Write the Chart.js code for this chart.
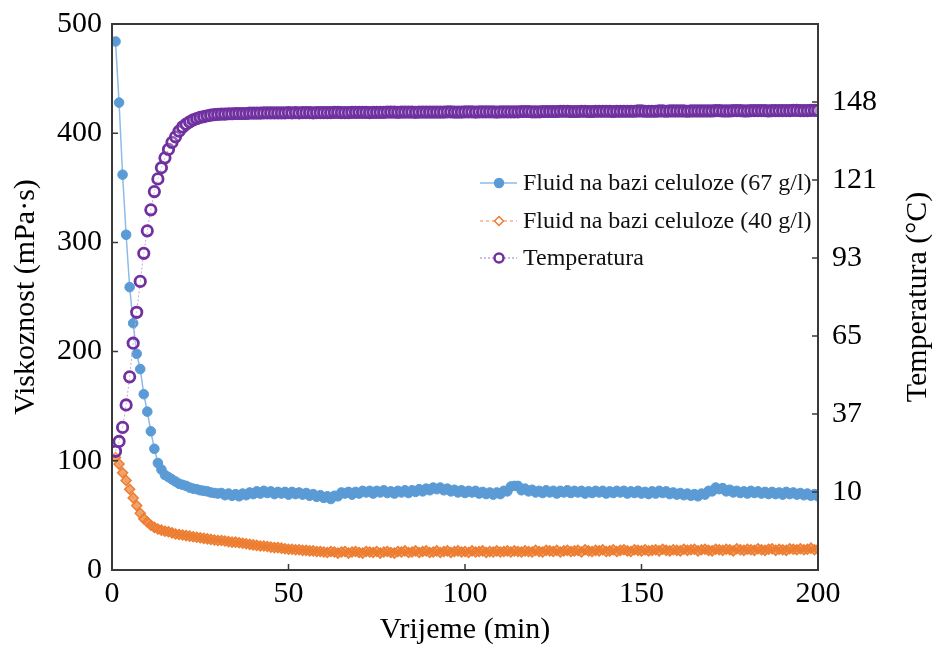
<!DOCTYPE html>
<html>
<head>
<meta charset="utf-8">
<script src="https://cdn.jsdelivr.net/npm/chart.js"></script>
<style>
  body { margin: 0; background: #fff; }
  #wrap { width: 934px; height: 646px; position: relative; }
</style>
</head>
<body>
<div id="wrap"><canvas id="viscChart"></canvas></div>
<script>
// vrijeme (min)
var times = [
  1,2,3,4,5,6,7,8,9,10, 11,12,13,14,15,16,17,18,19,20, 21,22,23,24,25,26,27,28,29,30,
  31,32,33,34,35,36,37,38,39,40, 41,42,43,44,45,46,47,48,49,50, 51,52,53,54,55,56,57,58,59,60,
  61,62,63,64,65,66,67,68,69,70, 71,72,73,74,75,76,77,78,79,80, 81,82,83,84,85,86,87,88,89,90,
  91,92,93,94,95,96,97,98,99,100, 101,102,103,104,105,106,107,108,109,110, 111,112,113,114,115,116,117,118,119,120,
  121,122,123,124,125,126,127,128,129,130, 131,132,133,134,135,136,137,138,139,140, 141,142,143,144,145,146,147,148,149,150,
  151,152,153,154,155,156,157,158,159,160, 161,162,163,164,165,166,167,168,169,170, 171,172,173,174,175,176,177,178,179,180,
  181,182,183,184,185,186,187,188,189,190, 191,192,193,194,195,196,197,198,199,200];

// viskoznost (mPa·s), 67 g/l
var visc67 = [
  484,428,362,307,259,226,198,184,161,145, 127,111,98,92,87,85,83,81,79,78, 77,75.5,74.5,74,73,72.5,72,71,70.5,70,
  70.5,68.5,70,68,69.5,67.5,70,68.5,71,69.5, 72,70,72.5,70.5,72,69.5,71.5,70,71.5,69, 71.5,69.5,71,69,70.5,68,69.5,67,68.5,66,
  67.5,65,68,67.5,71,70,71.5,69,71.5,70, 72.5,71,72.5,70,72.5,71,73,70.5,72,70, 72.5,71,73,70.5,73,71.5,74,72,74.5,73,
  75.5,74,75.5,73,74.5,72,73.5,71,73,70.5, 72.5,71,72.5,70,71.5,69.5,71,69,71,69.5, 72.5,72,76.5,77,77,73,74.5,72,73.5,71,
  72.5,70.5,73,71,72.5,70,72.5,71,73,70.5, 72.5,71,72.5,70,72,70.5,72.5,71,72.5,70, 72,70.5,72.5,71,72.5,70,72,70.5,72.5,70,
  71.5,69.5,72,70,72.5,70.5,72,69.5,71,69, 70.5,68.5,70,68,69.5,67.5,70,69,72.5,72, 75.5,74,75,72,73.5,71,72.5,70.5,72,70,
  72.5,70.5,72,70,71.5,69.5,71.5,69.5,71,69, 71.5,69.5,71,69,70.5,68.5,70,68,69.5,67.5];

// viskoznost (mPa·s), 40 g/l
var visc40 = [
  103,97,89,82,74,66,59,52,47,44, 41,39,37.5,36.5,35.5,35,34,33,32.5,32, 31.5,31,30.5,30,29.5,29,28.5,28,27.5,27,
  27,26.5,26,25.5,25.5,25,24.5,24,23.5,23, 22.5,22,22,21.5,21,20.5,20.5,20,19.5,19, 19,18.5,18.5,18,18,17.5,17.5,17,17,16.5,
  16,17,16.5,15.5,16.5,17,15.5,16.5,17,16, 15.5,17,16.5,16,17,15.5,16.5,17,16,15.5, 17,16.5,17.5,16,16.5,17.5,16,17,17.5,16,
  16.5,17.5,16,17,17.5,16,17,17.5,16.5,17, 16,17.5,16.5,17,17.5,16,17,16.5,17.5,16.5, 17,17.5,16.5,17.5,17,16.5,17.5,17,16.5,18,
  17,16.5,18,17.5,17,18,16.5,17.5,18,17, 17.5,18,16.5,18.5,17.5,17,18,17.5,18.5,17, 17.5,18.5,17,18,18.5,17.5,17,18.5,18,17.5,
  18.5,17.5,18,18.5,17.5,19,18,17.5,18.5,18, 17.5,19,18,18.5,19,17.5,18.5,19,18,17.5, 19,18.5,18,19,18.5,17.5,19.5,18.5,18,19,
  18.5,18,19.5,18.5,18,19,19.5,18,19,18.5, 18,19.5,19,18.5,19.5,18.5,19,20,18.5,19];

// temperatura (°C)
var temperature = [
  24.5,28,33,41,51,63,74,85,95,103, 110.5,117,121.5,125.5,129,132,134.5,136.5,138.5,140, 141,141.8,142.5,143,143.4,143.7,144,144.2,144.4,144.5,
  144.6,144.6,144.7,144.7,144.8,144.8,144.8,144.8,144.9,144.9, 144.9,144.9,145,145,145,145,145,145,145,145.1, 145,145.1,145,145.1,145.1,145.1,145,145.1,145.1,145.1,
  145.1,145.1,145.2,145.2,145.1,145.1,145.1,145.2,145.2,145.2, 145.2,145.2,145.1,145.2,145.2,145.2,145.2,145.3,145.3,145.3, 145.2,145.3,145.3,145.3,145.3,145.2,145.3,145.3,145.3,145.3,
  145.3,145.3,145.3,145.3,145.4,145.4,145.3,145.3,145.3,145.4, 145.4,145.4,145.3,145.4,145.4,145.4,145.4,145.4,145.3,145.4, 145.4,145.4,145.4,145.4,145.4,145.5,145.5,145.5,145.4,145.4,
  145.4,145.5,145.5,145.5,145.5,145.5,145.6,145.6,145.6,145.5, 145.5,145.5,145.6,145.6,145.5,145.5,145.6,145.6,145.6,145.6, 145.6,145.5,145.6,145.6,145.6,145.6,145.6,145.6,145.7,145.7,
  145.6,145.6,145.6,145.6,145.7,145.7,145.6,145.7,145.7,145.7, 145.7,145.7,145.6,145.7,145.7,145.7,145.7,145.7,145.7,145.7, 145.8,145.8,145.7,145.7,145.7,145.8,145.8,145.8,145.7,145.7,
  145.8,145.8,145.8,145.8,145.8,145.7,145.8,145.8,145.8,145.8, 145.8,145.8,145.9,145.9,145.8,145.8,145.8,145.9,145.9,145.9];

var seriesLabels = ['Fluid na bazi celuloze (67 g/l)', 'Fluid na bazi celuloze (40 g/l)', 'Temperatura'];

// desna os: 50..300 °F preracunato u °C
var tempTickValues = [10, 37.78, 65.56, 93.33, 121.11, 148.89];
var tempTickLabels = ['10', '37', '65', '93', '121', '148'];
var tempMin = -17.78, tempMax = 176.67;

function pts(ys) {
  return times.map(function(t, i) { return {x: t, y: ys[i]}; });
}

var serif = "'Liberation Serif', 'Times New Roman', serif";

var boxPlugin = {
  id: 'boxPlugin',
  afterDraw: function(chart) {
    var ctx = chart.ctx, a = chart.chartArea;
    ctx.save();
    ctx.strokeStyle = '#3a3a3a';
    ctx.lineWidth = 2;
    ctx.strokeRect(a.left, a.top, a.right - a.left, a.bottom - a.top);

    // unutarnje crtice
    ctx.lineWidth = 1.5;
    ctx.beginPath();
    chart.scales.x.ticks.forEach(function(t) {
      var px = chart.scales.x.getPixelForValue(t.value);
      ctx.moveTo(px, a.bottom); ctx.lineTo(px, a.bottom - 6);
    });
    chart.scales.y.ticks.forEach(function(t) {
      var py = chart.scales.y.getPixelForValue(t.value);
      ctx.moveTo(a.left, py); ctx.lineTo(a.left + 6, py);
    });
    chart.scales.y2.ticks.forEach(function(t) {
      var py = chart.scales.y2.getPixelForValue(t.value);
      ctx.moveTo(a.right, py); ctx.lineTo(a.right - 6, py);
    });
    ctx.stroke();

    // naslov desne osi
    ctx.fillStyle = '#000';
    ctx.font = '30px ' + serif;
    ctx.textAlign = 'center';
    ctx.textBaseline = 'middle';
    ctx.translate(918, (a.top + a.bottom) / 2);
    ctx.rotate(-Math.PI / 2);
    ctx.fillText('Temperatura (°C)', 0, 0);
    ctx.restore();

    // legenda
    ctx.save();
    ctx.font = '24px ' + serif;
    ctx.textAlign = 'left';
    ctx.textBaseline = 'middle';
    var rows = [183, 221, 258];
    chart.data.datasets.forEach(function(ds, i) {
      var y = rows[i];
      ctx.strokeStyle = ds.borderColor;
      ctx.lineWidth = 1.5;
      ctx.setLineDash(ds.borderDash || []);
      ctx.beginPath(); ctx.moveTo(480, y); ctx.lineTo(517, y); ctx.stroke();
      ctx.setLineDash([]);
      ctx.fillStyle = i === 0 ? ds.pointBackgroundColor : '#fff';
      ctx.strokeStyle = ds.pointBorderColor;
      ctx.lineWidth = i === 2 ? 2.5 : 1.5;
      ctx.beginPath();
      if (ds.pointStyle === 'rectRot') {
        ctx.moveTo(499, y - 4.5); ctx.lineTo(503.5, y); ctx.lineTo(499, y + 4.5); ctx.lineTo(494.5, y); ctx.closePath();
      } else {
        ctx.arc(499, y, 4.5, 0, Math.PI * 2);
      }
      ctx.fill(); ctx.stroke();
      ctx.fillStyle = '#111';
      ctx.fillText(ds.label, 523, y + 1);
    });
    ctx.restore();
  }
};

var ctx = document.getElementById('viscChart');

var viscChart = new Chart(ctx, {
  type: 'line',
  data: {
    datasets: [
      {
        label: seriesLabels[0],
        data: pts(visc67),
        yAxisID: 'y',
        order: 2,
        borderColor: '#8DBBE6',
        borderWidth: 1.5,
        pointStyle: 'circle',
        pointRadius: 4.8,
        pointBackgroundColor: '#5B9BD5',
        pointBorderColor: '#5B9BD5',
        pointBorderWidth: 1
      },
      {
        label: seriesLabels[1],
        data: pts(visc40),
        yAxisID: 'y',
        order: 3,
        borderColor: '#F4B183',
        borderWidth: 1,
        borderDash: [3, 3],
        pointStyle: 'rectRot',
        pointRadius: 5,
        pointBackgroundColor: 'rgba(237,125,49,0.7)',
        pointBorderColor: '#ED7D31',
        pointBorderWidth: 1.5
      },
      {
        label: seriesLabels[2],
        data: pts(temperature),
        yAxisID: 'y2',
        order: 1,
        borderColor: '#C3A3DC',
        borderWidth: 1,
        borderDash: [2, 2],
        pointStyle: 'circle',
        pointRadius: 5.2,
        pointBackgroundColor: 'rgba(255,255,255,0.25)',
        pointBorderColor: '#7030A0',
        pointBorderWidth: 2.8
      }
    ]
  },
  options: {
    responsive: true,
    maintainAspectRatio: false,
    animation: false,
    layout: { padding: { top: 24, left: 0, right: 0, bottom: 0 } },
    plugins: {
      legend: { display: false },
      tooltip: { enabled: false }
    },
    scales: {
      x: {
        type: 'linear',
        min: 0, max: 200,
        grid: { display: false, drawTicks: false },
        border: { display: false },
        ticks: { stepSize: 50, color: '#000', padding: 6, font: { family: serif, size: 30 } },
        title: { display: true, text: 'Vrijeme (min)', color: '#000', padding: { top: 0, bottom: 1 },
                 font: { family: serif, size: 30, lineHeight: 1 } },
        afterFit: function(s) { s.height = 76; s.paddingLeft = 0; s.paddingRight = 0; }
      },
      y: {
        position: 'left',
        min: 0, max: 500,
        grid: { display: false, drawTicks: false },
        border: { display: false },
        ticks: { stepSize: 100, color: '#000', padding: 10, font: { family: serif, size: 30 } },
        title: { display: true, text: 'Viskoznost (mPa·s)', color: '#000', padding: { top: 11, bottom: 0 },
                 font: { family: serif, size: 30, lineHeight: 1 } },
        afterFit: function(s) { s.width = 112; s.paddingTop = 0; s.paddingBottom = 0; }
      },
      y2: {
        position: 'right',
        min: tempMin, max: tempMax,
        grid: { display: false, drawTicks: false },
        border: { display: false },
        afterBuildTicks: function(s) {
          s.ticks = tempTickValues.map(function(v) { return {value: v}; });
        },
        ticks: {
          color: '#000', padding: 14, font: { family: serif, size: 30 },
          callback: function(v) { return tempTickLabels[tempTickValues.indexOf(v)]; }
        },
        afterFit: function(s) { s.width = 116; s.paddingTop = 0; s.paddingBottom = 0; }
      }
    }
  },
  plugins: [boxPlugin]
});
</script>
</body>
</html>
